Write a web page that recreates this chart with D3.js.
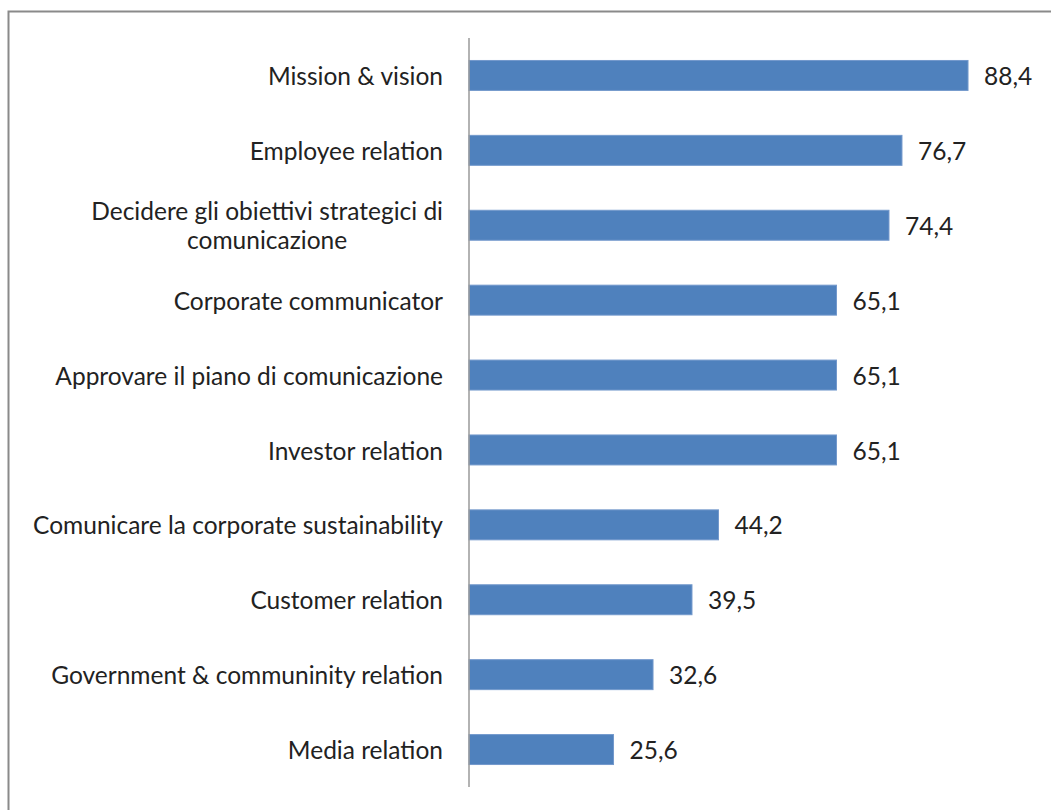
<!DOCTYPE html>
<html>
<head>
<meta charset="utf-8">
<script src="https://cdn.jsdelivr.net/npm/d3@7"></script>
<style>
  html, body { margin: 0; padding: 0; background: #fff; }
  svg { display: block; }
</style>
</head>
<body>
<svg id="chart" width="1051" height="810"></svg>
<script>
// Categories (top to bottom) and their percentage values
const categories = [
  "Mission & vision",
  "Employee relation",
  "Decidere gli obiettivi strategici di\ncomunicazione",
  "Corporate communicator",
  "Approvare il piano di comunicazione",
  "Investor relation",
  "Comunicare la corporate sustainability",
  "Customer relation",
  "Government & communinity relation",
  "Media relation"
];
const values = [88.4, 76.7, 74.4, 65.1, 65.1, 65.1, 44.2, 39.5, 32.6, 25.6];
const valueLabels = ["88,4", "76,7", "74,4", "65,1", "65,1", "65,1", "44,2", "39,5", "32,6", "25,6"];

const svg = d3.select("#chart");
const font = "Lato, 'Open Sans', sans-serif";
const fontSize = 24.5;
const textColor = "#222";

// Outer chart-area frame (top and left edges visible)
svg.append("path")
  .attr("d", "M8.5,810 V11.5 H1051")
  .attr("fill", "none")
  .attr("stroke", "#8a8a8a")
  .attr("stroke-width", 2);

const x = d3.scaleLinear().domain([0, 100]).range([469, 1033.5]);
const y = d3.scaleBand().domain(categories).range([38, 787]).paddingInner(0.6).paddingOuter(0.3);

// Bars
svg.append("g").selectAll("rect")
  .data(values)
  .join("rect")
  .attr("x", x(0))
  .attr("y", (d, i) => y(categories[i]))
  .attr("width", d => x(d) - x(0))
  .attr("height", y.bandwidth())
  .attr("fill", "#4f81bd")
  .attr("stroke", "#7399cc")
  .attr("stroke-width", 1);

// Category axis (line only, labels drawn below)
const axis = svg.append("g")
  .attr("transform", `translate(${x(0)},0)`)
  .call(d3.axisLeft(y).tickSize(0).tickFormat(""));
axis.select(".domain").attr("stroke", "#9a9a9a").attr("stroke-width", 1.5)
  .attr("d", "M0,38V787");

// Category labels (multi-line labels are centred within their block)
const labelRight = 443;
categories.forEach((c, i) => {
  const lines = c.split("\n");
  const cy = y(c) + y.bandwidth() / 2 + 1;
  const lh = 29;
  const t = svg.append("text")
    .attr("font-family", font)
    .attr("font-size", fontSize)
    .attr("fill", textColor);
  if (lines.length === 1) {
    t.attr("x", labelRight).attr("y", cy).attr("dy", "0.35em")
      .attr("text-anchor", "end").text(c);
  } else {
    // measure widest line to centre the block against the right edge
    const tmp = svg.append("text").attr("font-family", font).attr("font-size", fontSize).text(lines[0]);
    const w = tmp.node().getComputedTextLength();
    tmp.remove();
    const center = labelRight - w / 2;
    t.attr("text-anchor", "middle");
    lines.forEach((ln, k) => {
      t.append("tspan")
        .attr("x", center)
        .attr("y", cy + (k - (lines.length - 1) / 2) * lh)
        .attr("dy", "0.35em")
        .text(ln);
    });
  }
});

// Value labels
svg.append("g").selectAll("text")
  .data(values)
  .join("text")
  .attr("x", d => x(d) + 16)
  .attr("y", (d, i) => y(categories[i]) + y.bandwidth() / 2 + 1)
  .attr("dy", "0.35em")
  .attr("font-family", font)
  .attr("font-size", fontSize)
  .attr("fill", textColor)
  .text((d, i) => valueLabels[i]);
</script>
</body>
</html>
